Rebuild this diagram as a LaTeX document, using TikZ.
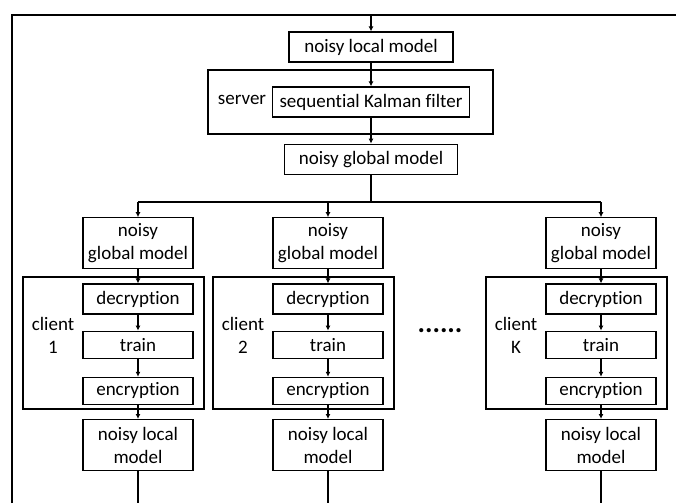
\documentclass[tikz,border=0pt]{standalone}
\usepackage{fontspec}
\setmainfont{Carlito}[Ligatures=NoCommon]
\usetikzlibrary{positioning,arrows.meta,calc}

\begin{document}
\begin{tikzpicture}[
    x=1pt, y=-1pt,
    block/.style={
        draw, line width=1.2pt, inner sep=0pt, align=center,
        font=\fontsize{19}{23}\selectfont
    },
    flow/.style={line width=1.2pt, -{Latex[length=5pt,width=5pt]}},
    wire/.style={line width=1.2pt},
    tag/.style={align=center, inner sep=0pt, font=\fontsize{19}{23}\selectfont}
]
\useasboundingbox (0,0) rectangle (676,503);

% Loop frame
\coordinate (tl) at (12,15);
\coordinate (tr) at (676,15);
\coordinate (bl) at (12,503);
\coordinate (top) at (371,15);
\coordinate (split) at (371,202);

% Server part
\node[block, minimum width=164pt, minimum height=30pt] (nlm) at (371,47) {noisy local model};
\node[block, minimum width=285pt, minimum height=64pt] (server) at (350.5,102) {};
\node[block, minimum width=197pt, minimum height=30pt] (skf) at (371,102) {sequential Kalman filter};
\node[tag] (srvlab) at (242,100) {server};
\node[block, minimum width=173pt, minimum height=30pt, below=26pt of skf] (ngm) {noisy global model};

% Clients
\foreach \c/\x in {1/138, 2/328, K/601} {
    \coordinate (s\c) at (\x,202);
    \coordinate (e\c) at (\x,503);
    \node[block, minimum width=181pt, minimum height=132pt] (client\c) at ({\x-24.5},343) {};
    \node[block, minimum width=110pt, minimum height=30pt] (dec\c) at (\x,299) {decryption};
    \node[block, minimum width=110pt, minimum height=51pt, above=14pt of dec\c] (gm\c) {noisy\\global model};
    \node[block, minimum width=110pt, minimum height=27pt, below=16pt of dec\c] (train\c) {train};
    \node[block, minimum width=110pt, minimum height=27pt, below=18pt of train\c] (enc\c) {encryption};
    \node[block, minimum width=110pt, minimum height=51pt, below=14pt of enc\c] (lm\c) {noisy local\\model};
    \node[tag] (lab\c) at ({\x-85},335) {client\\\c};
}

\node[font=\fontsize{28}{28}\selectfont\bfseries, inner sep=0pt] (dots) at (440,331) {......};

% Connectors
\draw[wire] (bl) -- (tl) -- (tr);
\draw[flow] (top) -- (nlm);
\draw[flow] (nlm) -- (skf);
\draw[flow] (skf) -- (ngm);
\draw[wire] (ngm) -- (split);
\draw[wire] (s1) -- (sK);

\foreach \c in {1,2,K} {
    \draw[flow] (s\c) -- (gm\c);
    \draw[flow] (gm\c) -- (dec\c);
    \draw[flow] (dec\c) -- (train\c);
    \draw[flow] (train\c) -- (enc\c);
    \draw[flow] (enc\c) -- (lm\c);
    \draw[wire] (lm\c) -- (e\c);
}

\end{tikzpicture}
\end{document}
